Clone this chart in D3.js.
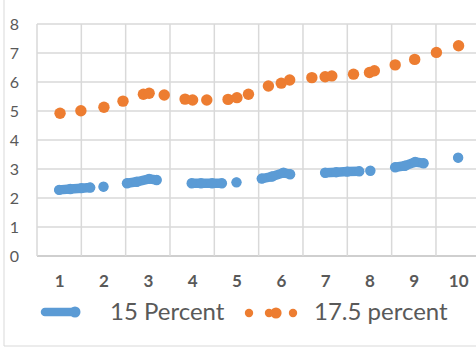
<!DOCTYPE html>
<html>
<head>
<meta charset="utf-8">
<script src="https://cdn.jsdelivr.net/npm/d3@7"></script>
<style>
  body { margin: 0; background: #fff; }
  svg { display: block; }
</style>
</head>
<body>
<div id="chart"></div>
<script>
(function(){
    // categories on the x axis and y ticks
    var categories = ['1', '2', '3', '4', '5', '6', '7', '8', '9', '10'];
    var yTicks = [0, 1, 2, 3, 4, 5, 6, 7, 8];

    // 15 Percent series (null = gap in the line)
    var blueX = [1.0, 1.25, 1.5, 1.7, null, 2.0, null, 2.53, 2.75, 3.03, 3.2, null,
                 3.99, 4.2, 4.45, 4.67, null, 5.0, null, 5.57, 5.8, 6.06, 6.21, null,
                 7.0, 7.25, 7.5, 7.77, null, 8.02, null, 8.58, 8.8, 9.03, 9.22, null, 10.0];
    var blueY = [2.28, 2.31, 2.34, 2.36, null, 2.39, null, 2.51, 2.56, 2.66, 2.62, null,
                 2.51, 2.51, 2.51, 2.51, null, 2.54, null, 2.67, 2.74, 2.87, 2.82, null,
                 2.87, 2.89, 2.91, 2.92, null, 2.94, null, 3.06, 3.11, 3.24, 3.2, null, 3.39];

    // 17.5 percent series
    var orangeX = [1.02, 1.49, 2.01, 2.44, 2.9, 3.03, 3.37, 3.84, 4.01, 4.33, 4.81, 5.01, 5.27,
                   5.72, 6.01, 6.2, 6.7, 7.0, 7.15, 7.64, 8.0, 8.11, 8.58, 9.02, 9.51, 10.01];
    var orangeY = [4.92, 5.01, 5.13, 5.34, 5.58, 5.61, 5.55, 5.41, 5.38, 5.38, 5.4, 5.46, 5.58,
                   5.86, 5.96, 6.07, 6.15, 6.18, 6.21, 6.27, 6.33, 6.39, 6.59, 6.78, 7.02, 7.25];

    var seriesNames = ['15 Percent', '17.5 percent'];

    var width = 476;
    var height = 348;
    var blue = '#5b9bd5';
    var orange = '#ed7d31';
    var grey = '#595959';
    var font = 'Lato, "Open Sans", sans-serif';

    var svg = d3.select('#chart')
        .append('svg')
            .attr('width', width)
            .attr('height', height)
            .style('font-family', font);

    // chart frame (only left and bottom edges fall inside the picture)
    svg.append('path')
        .attr('d', 'M4,0 L4,346 L476,346')
        .attr('fill', 'none')
        .attr('stroke', '#d9d9d9')
        .attr('stroke-width', 1);

    var xScale = d3.scaleLinear()
        .domain([0.5, 10.5])
        .range([37, 480.3]);

    var yScale = d3.scaleLinear()
        .domain([0, 8])
        .range([256, 24]);

    // horizontal grid
    svg.append('g')
        .selectAll('line')
        .data(yTicks)
        .enter()
        .append('line')
        .attr('x1', xScale(0.5))
        .attr('x2', xScale(10.5))
        .attr('y1', function(d){ return yScale(d); })
        .attr('y2', function(d){ return yScale(d); })
        .attr('stroke', function(d){ return d === 0 ? '#bfbfbf' : '#d9d9d9'; })
        .attr('stroke-width', 1.5);

    // vertical grid at category boundaries
    var bounds = d3.range(categories.length + 1).map(function(i){ return i + 0.5; });
    svg.append('g')
        .selectAll('line')
        .data(bounds)
        .enter()
        .append('line')
        .attr('x1', function(d){ return xScale(d); })
        .attr('x2', function(d){ return xScale(d); })
        .attr('y1', yScale(8))
        .attr('y2', yScale(0))
        .attr('stroke', '#d9d9d9')
        .attr('stroke-width', 1.5);

    // y axis labels
    var yAxis = d3.axisLeft(yScale)
        .tickValues(yTicks)
        .tickSize(0)
        .tickPadding(0);

    var yg = svg.append('g')
        .attr('transform', 'translate(19,0)')
        .call(yAxis);
    yg.select('.domain').remove();
    yg.selectAll('.tick text')
        .attr('fill', grey)
        .attr('font-size', '16px')
        .attr('font-family', font);

    // x axis labels
    var xAxis = d3.axisBottom(xScale)
        .tickValues(d3.range(1, 11))
        .tickFormat(function(d){ return categories[d - 1]; })
        .tickSize(0)
        .tickPadding(0);

    var xg = svg.append('g')
        .attr('transform', 'translate(0,275)')
        .call(xAxis);
    xg.select('.domain').remove();
    xg.selectAll('.tick text')
        .attr('fill', grey)
        .attr('font-size', '17px')
        .attr('font-weight', 'bold')
        .attr('font-family', font);

    // blue series
    var bluePts = blueX.map(function(x, i){ return {x: x, y: blueY[i]}; });
    var line = d3.line()
        .defined(function(d){ return d.y !== null; })
        .x(function(d){ return xScale(d.x); })
        .y(function(d){ return yScale(d.y); });

    svg.append('path')
        .datum(bluePts)
        .attr('d', line)
        .attr('fill', 'none')
        .attr('stroke', blue)
        .attr('stroke-width', 9.5)
        .attr('stroke-linecap', 'round')
        .attr('stroke-linejoin', 'round');

    svg.append('g')
        .selectAll('circle')
        .data(bluePts.filter(function(d){ return d.y !== null; }))
        .enter()
        .append('circle')
        .attr('cx', function(d){ return xScale(d.x); })
        .attr('cy', function(d){ return yScale(d.y); })
        .attr('r', 5.2)
        .attr('fill', blue);

    // orange series
    svg.append('g')
        .selectAll('circle')
        .data(orangeX.map(function(x, i){ return {x: x, y: orangeY[i]}; }))
        .enter()
        .append('circle')
        .attr('cx', function(d){ return xScale(d.x); })
        .attr('cy', function(d){ return yScale(d.y); })
        .attr('r', 5.7)
        .attr('fill', orange);

    // legend
    var legend = svg.append('g').attr('class', 'legend');

    legend.append('line')
        .attr('x1', 45).attr('x2', 75)
        .attr('y1', 312).attr('y2', 312)
        .attr('stroke', blue)
        .attr('stroke-width', 8.5)
        .attr('stroke-linecap', 'round');
    legend.append('circle')
        .attr('cx', 75).attr('cy', 312).attr('r', 5.5)
        .attr('fill', blue);
    legend.append('text')
        .attr('x', 110).attr('y', 312)
        .attr('dy', '0.35em')
        .attr('fill', grey)
        .attr('font-size', '24px')
        .text(seriesNames[0]);

    [249, 269, 293].forEach(function(cx){
        legend.append('circle')
            .attr('cx', cx).attr('cy', 313).attr('r', 4.2)
            .attr('fill', orange);
    });
    legend.append('circle')
        .attr('cx', 276).attr('cy', 313).attr('r', 5.6)
        .attr('fill', orange);
    legend.append('text')
        .attr('x', 314).attr('y', 312)
        .attr('dy', '0.35em')
        .attr('fill', grey)
        .attr('font-size', '24px')
        .text(seriesNames[1]);
})();
</script>
</body>
</html>
